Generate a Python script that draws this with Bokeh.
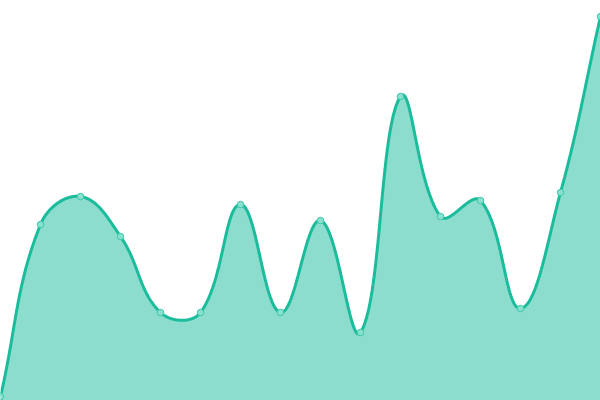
import numpy as np
from bokeh.plotting import figure
from bokeh.models import Range1d
from bokeh.embed import file_html
from bokeh.resources import INLINE

# data
labels = list(range(16))
values = [1, 44, 51, 41, 22, 22, 49, 22, 45, 17, 76, 46, 50, 23, 52, 96]

W, H = 600, 400
X0, X1 = 0, 15
Y0, Y1 = 0, 100

p = figure(width=W, height=H, output_backend="svg", toolbar_location=None,
           x_range=Range1d(X0, X1), y_range=Range1d(Y0, Y1), min_border=0)
p.axis.visible = False
p.grid.visible = False
p.outline_line_color = None
p.background_fill_color = "white"

# Chart.js-style spline (tension 0.4), computed in screen-proportional space
sx = W / (X1 - X0)
sy = H / (Y1 - Y0)
px = np.array(labels, float) * sx
py = np.array(values, float) * sy
t = 0.4
n = len(px)
cp_prev = np.zeros((n, 2))
cp_next = np.zeros((n, 2))
for i in range(n):
    cur = np.array([px[i], py[i]])
    prev = np.array([px[i - 1], py[i - 1]]) if i > 0 else cur
    nxt = np.array([px[i + 1], py[i + 1]]) if i < n - 1 else cur
    d01 = np.hypot(*(cur - prev))
    d12 = np.hypot(*(nxt - cur))
    s = d01 + d12
    fa = t * d01 / s if s else 0
    fb = t * d12 / s if s else 0
    cp_prev[i] = cur - fa * (nxt - prev)
    cp_next[i] = cur + fb * (nxt - prev)
# clamp to chart area
cp_prev[:, 1] = np.clip(cp_prev[:, 1], 0, H)
cp_next[:, 1] = np.clip(cp_next[:, 1], 0, H)

xs, ys = [], []
tt = np.linspace(0, 1, 40)
for i in range(n - 1):
    P0 = np.array([px[i], py[i]])
    P1 = cp_next[i]
    P2 = cp_prev[i + 1]
    P3 = np.array([px[i + 1], py[i + 1]])
    b = ((1 - tt) ** 3)[:, None] * P0 + (3 * (1 - tt) ** 2 * tt)[:, None] * P1 \
        + (3 * (1 - tt) * tt ** 2)[:, None] * P2 + (tt ** 3)[:, None] * P3
    if i > 0:
        b = b[1:]
    xs.extend(b[:, 0] / sx)
    ys.extend(b[:, 1] / sy)

p.varea(x=xs, y1=[Y0] * len(xs), y2=ys, fill_color="#1abc9c", fill_alpha=0.5)
p.line(xs, ys, line_color="#1abc9c", line_width=3)
p.scatter(labels, values, size=6.5, fill_color="#8ae0cf", line_color="#3cc8aa", line_width=1)

open("out.html", "w").write(file_html(p, INLINE))
